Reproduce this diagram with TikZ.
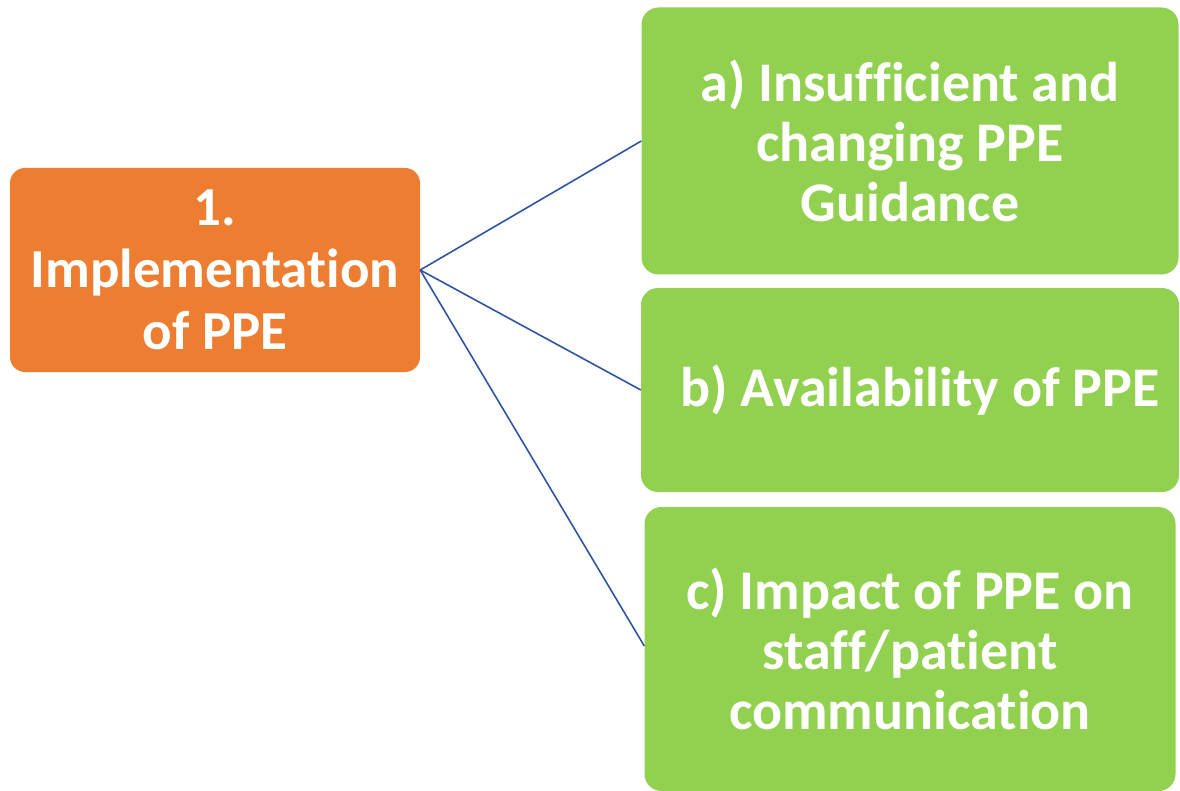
\documentclass[tikz,border=0pt]{standalone}
\usepackage{fontspec}
\setmainfont{Carlito}[Ligatures=CommonOff]
\tikzstyle{topicbox}=[fill=orangefill,rounded corners=15pt,align=center,text=white,font=\bfseries\fontsize{55}{62}\selectfont]
\tikzstyle{themebox}=[fill=greenfill,rounded corners=17pt,align=center,text=white,font=\bfseries\fontsize{56}{60}\selectfont]
\tikzstyle{connector}=[draw=linkblue,line width=1.6pt]
\definecolor{orangefill}{HTML}{ED7D31}
\definecolor{greenfill}{HTML}{92D050}
\definecolor{linkblue}{HTML}{2F55A0}

\begin{document}
\begin{tikzpicture}[x=1pt,y=-1pt]
	\useasboundingbox (0,0) rectangle (1180,791);
	% main topic
	\node[topicbox,minimum width=410pt,minimum height=204pt] (impl) at (215,270) {1.\\Implementation\\of PPE};
	% sub themes
	\node[themebox,minimum width=537pt,minimum height=267pt] (guid) at (910,141) {a) Insufficient and\\changing PPE\\Guidance};
	\node[themebox,minimum width=538pt,minimum height=204pt] (avail) at (910,390) {\hspace{20pt}b) Availability of PPE};
	\node[themebox,minimum width=531pt,minimum height=284pt] (comm) at (910,649) {c) Impact of PPE on\\staff/patient\\communication};
	\draw[connector] (impl.east) -- (guid.west);
	\draw[connector] (impl.east) -- (avail.west);
	\draw[connector] (impl.east) -- ([yshift=3pt]comm.west);
\end{tikzpicture}
\end{document}
